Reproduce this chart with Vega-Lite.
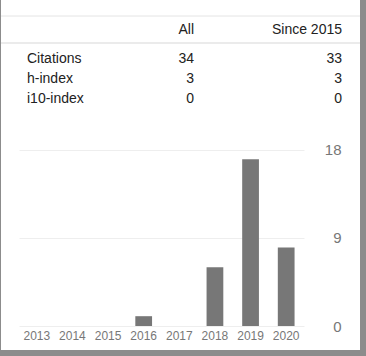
{
  "$schema": "https://vega.github.io/schema/vega-lite/v6.json",
  "width": 366,
  "height": 356,
  "autosize": {"type": "fit", "contains": "padding"},
  "padding": {"left": 0, "top": 0, "right": 5, "bottom": 6},
  "background": "#8c8c8c",
  "config": {
    "view": {"fill": "#ffffff", "stroke": null},
    "font": "Liberation Sans",
    "text": {"font": "Liberation Sans"}
  },
  "datasets": {
    "indices": [
      {"metric": "Citations", "all": 34, "since2015": 33},
      {"metric": "h-index", "all": 3, "since2015": 3},
      {"metric": "i10-index", "all": 0, "since2015": 0}
    ],
    "citations": [
      {"year": "2013", "count": 0},
      {"year": "2014", "count": 0},
      {"year": "2015", "count": 0},
      {"year": "2016", "count": 1},
      {"year": "2017", "count": 0},
      {"year": "2018", "count": 6},
      {"year": "2019", "count": 17},
      {"year": "2020", "count": 8}
    ]
  },
  "layer": [
    {
      "layer": [
        {
          "data": {"values": [{"line": "top"}]},
          "mark": {"type": "rule", "color": "#e4e4e4", "strokeWidth": 1},
          "encoding": {
            "y": {"field": "line", "type": "nominal", "scale": {"type": "point", "domain": ["top", "header", "separator"], "range": [16, 43], "padding": 0}, "axis": null}
          }
        },
        {
          "data": {"values": [{"line": "separator"}]},
          "mark": {"type": "rule", "color": "#ebebeb", "strokeWidth": 2},
          "encoding": {
            "y": {"field": "line", "type": "nominal", "axis": null}
          }
        },
        {
          "data": {"values": [{"column": "All"}]},
          "mark": {"type": "text", "align": "right", "baseline": "middle", "dx": 9.5, "fontSize": 14, "color": "#222222"},
          "encoding": {
            "x": {"field": "column", "type": "nominal", "scale": {"type": "point", "domain": ["label", "All", "Since 2015"], "range": [26, 341], "padding": 0}, "axis": null},
            "y": {"datum": "header", "type": "nominal"},
            "text": {"field": "column"}
          }
        },
        {
          "data": {"values": [{"column": "Since 2015"}]},
          "mark": {"type": "text", "align": "right", "baseline": "middle", "fontSize": 14, "color": "#222222"},
          "encoding": {
            "x": {"field": "column", "type": "nominal", "axis": null},
            "y": {"datum": "header", "type": "nominal"},
            "text": {"field": "column"}
          }
        }
      ]
    },
    {
      "data": {"name": "indices"},
      "encoding": {
        "y": {"field": "metric", "type": "nominal", "scale": {"type": "point", "domain": ["Citations", "h-index", "i10-index"], "range": [59, 98.5], "padding": 0}, "axis": null}
      },
      "layer": [
        {
          "mark": {"type": "text", "align": "left", "baseline": "middle", "fontSize": 14, "color": "#222222"},
          "encoding": {
            "x": {"datum": "label", "type": "nominal", "scale": {"type": "point", "domain": ["label", "All", "Since 2015"], "range": [26, 341], "padding": 0}, "axis": null},
            "text": {"field": "metric"}
          }
        },
        {
          "mark": {"type": "text", "align": "right", "baseline": "middle", "dx": 9.5, "fontSize": 14, "color": "#222222"},
          "encoding": {
            "x": {"datum": "All", "type": "nominal"},
            "text": {"field": "all"}
          }
        },
        {
          "mark": {"type": "text", "align": "right", "baseline": "middle", "fontSize": 14, "color": "#222222"},
          "encoding": {
            "x": {"datum": "Since 2015", "type": "nominal"},
            "text": {"field": "since2015"}
          }
        }
      ]
    },
    {
      "data": {"name": "citations"},
      "encoding": {
        "x": {
          "field": "year", "type": "ordinal",
          "scale": {"range": [18, 303], "paddingInner": 0.53, "paddingOuter": 0.265},
          "axis": {"orient": "bottom", "offset": -24, "title": null, "domain": false, "ticks": false, "tickSize": 0, "labelPadding": 4, "labelFontSize": 12, "labelColor": "#777777", "labelFont": "Liberation Sans", "labelAngle": 0, "labelOverlap": false, "grid": false}
        }
      },
      "layer": [
        {
          "mark": {"type": "bar", "opacity": 0},
          "encoding": {
            "y": {
              "field": "count", "type": "quantitative",
              "scale": {"domain": [0, 18], "range": [326, 149.5], "nice": false, "zero": true},
              "axis": {"orient": "left", "values": [0, 9, 18], "title": null, "domain": false, "ticks": false, "labels": false, "grid": true, "gridColor": "#eeeeee", "gridWidth": 1}
            }
          }
        },
        {
          "mark": {"type": "bar", "color": "#777777"},
          "encoding": {
            "y": {
              "field": "count", "type": "quantitative",
              "axis": {"orient": "right", "offset": -19, "values": [0, 9, 18], "title": null, "domain": false, "ticks": false, "tickSize": 0, "labelPadding": 0, "labelAlign": "right", "labelBaseline": "middle", "labelFontSize": 15, "labelFont": "Liberation Sans", "labelColor": "#777777", "grid": false}
            }
          }
        }
      ],
      "resolve": {"axis": {"y": "independent"}}
    }
  ],
  "resolve": {"scale": {"x": "independent", "y": "independent"}}
}
